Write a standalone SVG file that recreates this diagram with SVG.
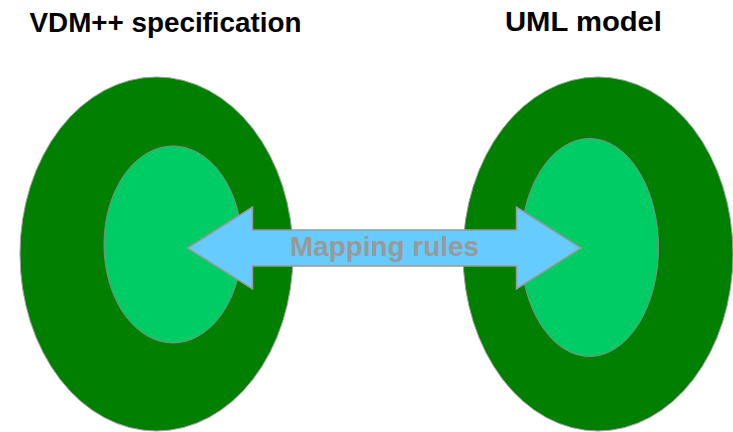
<svg xmlns="http://www.w3.org/2000/svg" width="733" height="432" viewBox="0 0 733 432">
  <style>
    .outer { fill: #007f00; stroke: #a0a0a0; stroke-width: 1; }
    .inner { fill: #00cc66; stroke: #8a8a8a; stroke-width: 1; }
    .title { font-family: "Liberation Sans", Arial, sans-serif; font-weight: bold; font-size: 27px; fill: #000000; }
    .arrow { fill: #66ccff; stroke: #999999; stroke-width: 1.5; stroke-linejoin: miter; }
    .label { font-family: "Liberation Sans", Arial, sans-serif; font-weight: bold; font-size: 27px; fill: #999999; }
  </style>
  <rect width="733" height="432" fill="#ffffff"/>

  <g id="vdm">
    <ellipse class="outer" cx="156.5" cy="254" rx="136.5" ry="177"/>
    <ellipse class="inner" cx="173" cy="244.5" rx="69" ry="98.5"/>
    <text class="title" x="29.5" y="31.5" textLength="272" lengthAdjust="spacingAndGlyphs">VDM++ specification</text>
  </g>

  <g id="uml">
    <ellipse class="outer" cx="598" cy="254" rx="135" ry="177"/>
    <ellipse class="inner" cx="589.5" cy="247.5" rx="69" ry="109"/>
    <text class="title" x="505" y="31" textLength="157" lengthAdjust="spacingAndGlyphs">UML model</text>
  </g>

  <g id="connectors">
    <polygon class="arrow" points="187.5,248 252.5,207 252.5,230 516.5,230 516.5,207 581,248 516.5,289 516.5,266 252.5,266 252.5,289"/>
    <text class="label" x="290" y="255.5" textLength="189" lengthAdjust="spacingAndGlyphs">Mapping rules</text>
  </g>
</svg>
